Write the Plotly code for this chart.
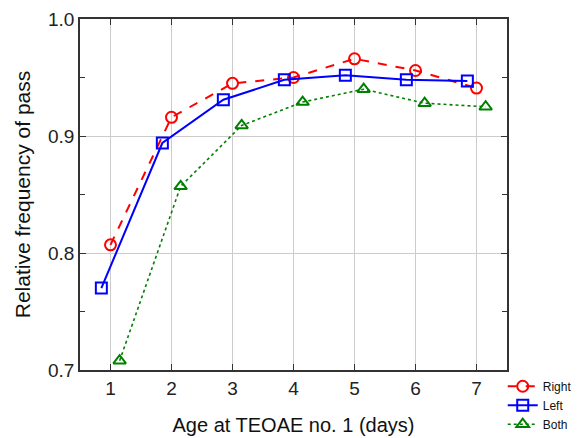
import plotly.graph_objects as go

ages = [1, 2, 3, 4, 5, 6, 7]
right_pass = [0.807, 0.916, 0.945, 0.950, 0.966, 0.956, 0.941]
left_pass = [0.770, 0.894, 0.931, 0.948, 0.952, 0.948, 0.947]
both_pass = [0.708, 0.857, 0.909, 0.929, 0.940, 0.928, 0.925]
x_offsets = {"Right": 0.0, "Left": -0.15, "Both": 0.15}
x_ticks = [1, 2, 3, 4, 5, 6, 7]
y_ticks = [0.7, 0.8, 0.9, 1.0]

fig = go.Figure()

series = [
    ("Right", right_pass, "#ff0000", "dash", "circle-open"),
    ("Left", left_pass, "#0000ff", "solid", "square-open"),
    ("Both", both_pass, "#008000", "dot", "triangle-up-open"),
]
for name, vals, color, dash, symbol in series:
    fig.add_trace(go.Scatter(
        x=[a + x_offsets[name] for a in ages], y=vals, name=name,
        mode="lines+markers",
        line=dict(color=color, width=2 if name != "Both" else 1.6, dash=dash),
        marker=dict(symbol=symbol, size=11, color=color,
                    line=dict(color=color, width=2)),
    ))

axis_common = dict(
    showline=True, linecolor="#333333", linewidth=1.5, mirror="ticks",
    ticks="inside", ticklen=6, tickcolor="#333333",
    showgrid=True, gridcolor="#cccccc", gridwidth=1, zeroline=False,
    automargin=False,
    tickfont=dict(family="Liberation Sans, Arial", size=19, color="#222222"),
)

fig.update_xaxes(
    range=[0.5, 7.5], tickvals=x_ticks,
    title=dict(text="Age at TEOAE no. 1 (days)", standoff=20,
               font=dict(family="Liberation Sans, Arial", size=20, color="#111111")),
    **axis_common,
)
fig.update_yaxes(
    range=[0.7, 1.0], tickvals=y_ticks, ticktext=[f"{v:.1f}" for v in y_ticks],
    minor=dict(ticks="inside", ticklen=5, dtick=0.05, tick0=0.7,
               tickcolor="#333333", showgrid=False),
    title=dict(text="Relative frequency of pass", standoff=12,
               font=dict(family="Liberation Sans, Arial", size=21, color="#111111")),
    **axis_common,
)

fig.update_layout(
    width=585, height=438,
    margin=dict(l=80, r=78, t=19, b=68, autoexpand=False),
    paper_bgcolor="white", plot_bgcolor="white",
    legend=dict(x=0.99, y=-0.005, xanchor="left", yanchor="top",
                font=dict(family="Liberation Sans, Arial", size=12, color="#111111"),
                itemwidth=30, tracegroupgap=0, bgcolor="rgba(0,0,0,0)"),
)

fig.write_html("out.html")
